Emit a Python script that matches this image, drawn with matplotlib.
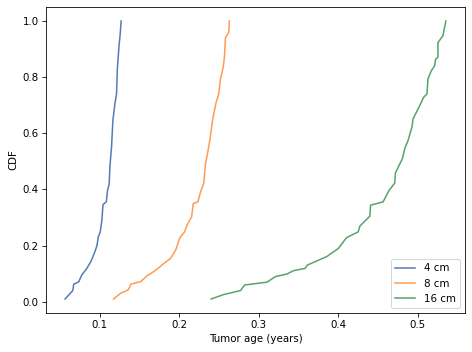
import matplotlib
matplotlib.use("Agg")
import matplotlib.pyplot as plt

# CDF points
x_4cm = [0.0561, 0.0658, 0.0670, 0.0733, 0.0770, 0.0833, 0.0887, 0.0929, 0.0962,
         0.0980, 0.1004, 0.1025, 0.1038, 0.1080, 0.1096, 0.1117, 0.1125, 0.1146,
         0.1163, 0.1188, 0.1209, 0.1220, 0.1242, 0.1255, 0.1267]
y_4cm = [0.010, 0.040, 0.063, 0.071, 0.095, 0.118, 0.144, 0.173, 0.199,
         0.232, 0.249, 0.291, 0.346, 0.356, 0.397, 0.421, 0.480, 0.551,
         0.645, 0.705, 0.740, 0.834, 0.917, 0.953, 1.000]

x_8cm = [0.1171, 0.1263, 0.1355, 0.1390, 0.1514, 0.1590, 0.1680, 0.1756, 0.1806,
         0.1890, 0.1953, 0.2007, 0.2066, 0.2091, 0.2154, 0.2175, 0.2233, 0.2266,
         0.2308, 0.2329, 0.2350, 0.2383, 0.2417, 0.2433, 0.2463, 0.2496, 0.2517,
         0.2551, 0.2567, 0.2580, 0.2621, 0.2630]
y_8cm = [0.010, 0.031, 0.042, 0.063, 0.072, 0.092, 0.108, 0.125, 0.137,
         0.155, 0.184, 0.229, 0.249, 0.270, 0.303, 0.350, 0.356, 0.391,
         0.423, 0.492, 0.521, 0.574, 0.645, 0.669, 0.710, 0.740, 0.793,
         0.834, 0.870, 0.941, 0.959, 1.000]

x_16cm = [0.2400, 0.2559, 0.2768, 0.2822, 0.3103, 0.3210, 0.3354, 0.3437, 0.3583,
          0.3612, 0.3855, 0.4001, 0.4106, 0.4251, 0.4273, 0.4398, 0.4407, 0.4565,
          0.4640, 0.4712, 0.4720, 0.4808, 0.4837, 0.4878, 0.4928, 0.4941, 0.5016,
          0.5075, 0.5117, 0.5129, 0.5172, 0.5213, 0.5226, 0.5255, 0.5255, 0.5317,
          0.5355]
y_16cm = [0.010, 0.026, 0.040, 0.060, 0.070, 0.090, 0.099, 0.111, 0.119,
          0.131, 0.161, 0.190, 0.229, 0.249, 0.270, 0.305, 0.344, 0.356,
          0.397, 0.423, 0.459, 0.510, 0.545, 0.574, 0.622, 0.651, 0.693,
          0.728, 0.740, 0.793, 0.823, 0.840, 0.864, 0.870, 0.923, 0.947,
          1.000]

fig, ax = plt.subplots(figsize=(472 / 74, 352 / 74), dpi=74)
fig.subplots_adjust(left=0.0975, right=0.985, top=0.980, bottom=0.111)

ax.plot(x_4cm, y_4cm, color='#3a64aa', alpha=0.85, label='4 cm')
ax.plot(x_8cm, y_8cm, color='#ff8a36', alpha=0.85, label='8 cm')
ax.plot(x_16cm, y_16cm, color='#3a9452', alpha=0.85, label='16 cm')

ax.set_xlabel('Tumor age (years)')
ax.set_ylabel('CDF')
ax.legend(loc='lower right')

fig.savefig('out.png', dpi=74)
